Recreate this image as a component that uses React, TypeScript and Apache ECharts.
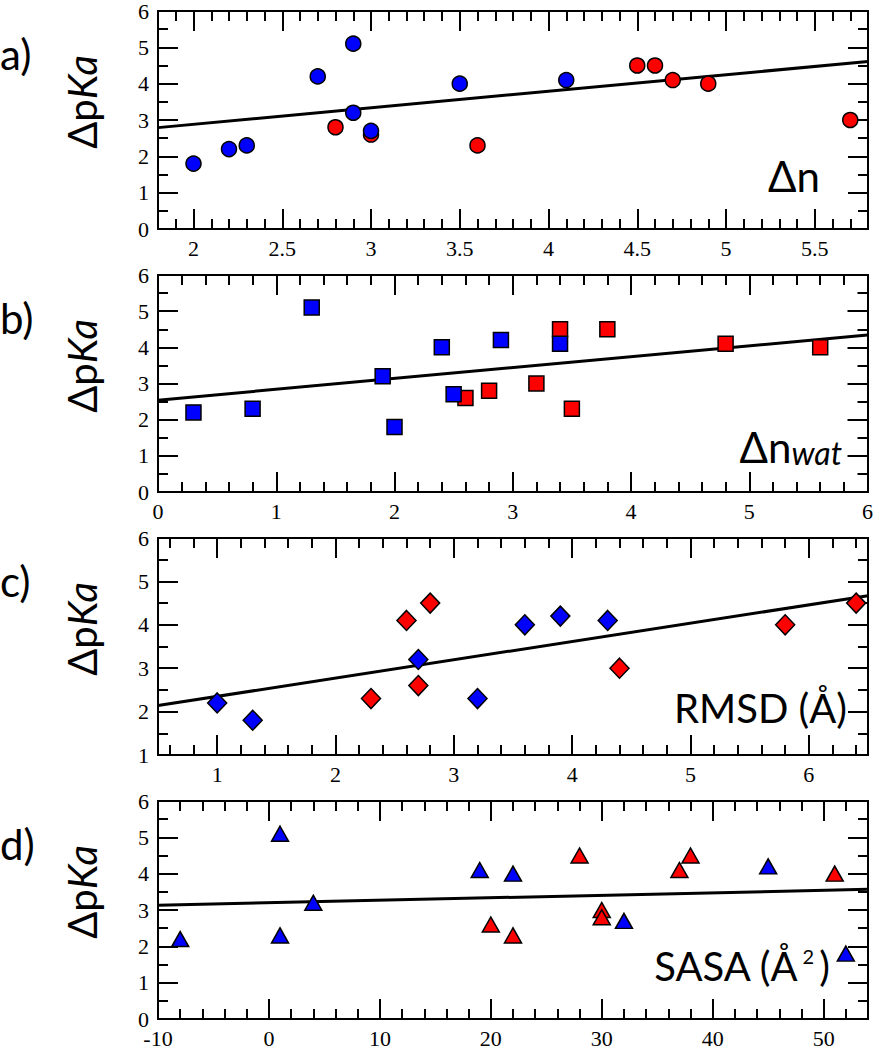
import React, { useEffect, useRef } from 'react';
import * as echarts from 'echarts';

// ---------- Data ----------
// a) Δn
const aBlue = [[2.0, 1.8], [2.2, 2.2], [2.3, 2.3], [2.7, 4.2], [2.9, 5.1], [2.9, 3.2], [3.0, 2.7], [3.5, 4.0], [4.1, 4.1]];
const aRed = [[2.8, 2.8], [3.0, 2.6], [3.6, 2.3], [4.5, 4.5], [4.6, 4.5], [4.7, 4.1], [4.9, 4.0], [5.7, 3.0]];
const aFit = [[1.8, 2.79], [5.8, 4.61]];
const aXLabels = [2, 2.5, 3, 3.5, 4, 4.5, 5, 5.5];

// b) Δn_wat
const bBlue = [[0.3, 2.2], [0.8, 2.3], [1.3, 5.1], [1.9, 3.2], [2.0, 1.8], [2.4, 4.0], [2.5, 2.7], [2.9, 4.2], [3.4, 4.1]];
const bRed = [[2.6, 2.6], [2.8, 2.8], [3.2, 3.0], [3.4, 4.5], [3.5, 2.3], [3.8, 4.5], [4.8, 4.1], [5.6, 4.0]];
const bFit = [[0, 2.54], [6, 4.34]];
const bXLabels = [0, 1, 2, 3, 4, 5, 6];

// c) RMSD (Å)
const cBlue = [[1.0, 2.2], [1.3, 1.8], [2.7, 3.2], [3.2, 2.3], [3.6, 4.0], [3.9, 4.2], [4.3, 4.1]];
const cRed = [[2.3, 2.3], [2.6, 4.1], [2.7, 2.6], [2.8, 4.5], [4.4, 3.0], [5.8, 4.0], [6.4, 4.5]];
const cFit = [[0.5, 2.14], [6.5, 4.67]];
const cXLabels = [1, 2, 3, 4, 5, 6];

// d) SASA (Å²)
const dBlue = [[-8, 2.2], [1, 5.1], [1, 2.3], [4, 3.2], [19, 4.1], [22, 4.0], [32, 2.7], [45, 4.2], [52, 1.8]];
const dRed = [[20, 2.6], [22, 2.3], [28, 4.5], [30, 3.0], [30, 2.8], [37, 4.1], [38, 4.5], [51, 4.0]];
const dFit = [[-10, 3.13], [54, 3.57]];
const dXLabels = [-10, 0, 10, 20, 30, 40, 50];

const yLabels06 = [0, 1, 2, 3, 4, 5, 6];
const yLabels16 = [1, 2, 3, 4, 5, 6];

// ---------- Layout ----------
const GRID_LEFT = 158;
const GRID_WIDTH = 710;
const PAD = 10;
const SERIF = 'Liberation Serif';
const SANS = 'Lato';

const panels = [
  { tag: 'a)', blue: aBlue, red: aRed, fit: aFit, xMin: 1.8, xMax: 5.8, xLabels: aXLabels, xMinorStep: 0.1, yMin: 0, yMax: 6, yLabels: yLabels06, symbol: 'circle', size: 15, top: 10, height: 219 },
  { tag: 'b)', blue: bBlue, red: bRed, fit: bFit, xMin: 0, xMax: 6, xLabels: bXLabels, xMinorStep: 0.2, yMin: 0, yMax: 6, yLabels: yLabels06, symbol: 'rect', size: 15, top: 274, height: 218 },
  { tag: 'c)', blue: cBlue, red: cRed, fit: cFit, xMin: 0.5, xMax: 6.5, xLabels: cXLabels, xMinorStep: 0.2, yMin: 1, yMax: 6, yLabels: yLabels16, symbol: 'diamond', size: [19, 20], top: 537, height: 218 },
  { tag: 'd)', blue: dBlue, red: dRed, fit: dFit, xMin: -10, xMax: 54, xLabels: dXLabels, xMinorStep: 2, yMin: 0, yMax: 6, yLabels: yLabels06, symbol: 'triangle', size: [17, 15], top: 800, height: 219 },
];

function stepTicks(min: number, max: number, step: number) {
  const out: number[] = [];
  const k0 = Math.ceil(min / step - 1e-9);
  for (let k = k0; k * step <= max + 1e-9; k++) out.push(+(k * step).toFixed(6));
  return out;
}

function makeAxes(dim: 'x' | 'y', min: number, max: number, major: number[], minor: number[], labels: number[]) {
  const isX = dim === 'x';
  const tickAxis = (position: string, ticks: number[], len: number) => ({
    type: 'value',
    gridIndex: 0,
    min,
    max,
    position,
    axisLine: { show: true, onZero: false, lineStyle: { color: '#000', width: 2 } },
    axisTick: { show: true, inside: true, length: len, customValues: ticks, lineStyle: { color: '#000', width: 2 } },
    axisLabel: { show: false },
    splitLine: { show: false },
  });
  const labelAxis = {
    type: 'value',
    gridIndex: 0,
    min,
    max,
    position: isX ? 'bottom' : 'left',
    axisLine: { show: true, onZero: false, lineStyle: { color: '#000', width: 2 } },
    axisTick: { show: false },
    axisLabel: {
      customValues: labels,
      fontSize: 22,
      fontFamily: SERIF,
      color: '#000',
      margin: isX ? 8 : 9,
      formatter: (v: number) => String(+Number(v).toFixed(6)),
    },
    splitLine: { show: false },
  };
  return [
    labelAxis,
    tickAxis(isX ? 'bottom' : 'left', major, 20),
    tickAxis(isX ? 'bottom' : 'left', minor, 10),
    tickAxis(isX ? 'top' : 'right', major, 20),
    tickAxis(isX ? 'top' : 'right', minor, 10),
  ];
}

function buildPanelOption(p: any) {
  return {
    animation: false,
    grid: { left: GRID_LEFT, width: GRID_WIDTH, top: PAD, height: p.height },
    xAxis: makeAxes('x', p.xMin, p.xMax, p.xLabels, stepTicks(p.xMin, p.xMax, p.xMinorStep), p.xLabels),
    yAxis: makeAxes('y', p.yMin, p.yMax, p.yLabels, stepTicks(p.yMin, p.yMax, 0.5), p.yLabels),
    series: [
      {
        type: 'line',
        xAxisIndex: 0,
        yAxisIndex: 0,
        data: p.fit,
        symbol: 'none',
        lineStyle: { color: '#000', width: 3 },
        z: 2,
      },
      {
        type: 'scatter',
        xAxisIndex: 0,
        yAxisIndex: 0,
        data: p.red,
        symbol: p.symbol,
        symbolSize: p.size,
        itemStyle: { color: '#ff0000', borderColor: '#000', borderWidth: 1.5, opacity: 1 },
        z: 3,
      },
      {
        type: 'scatter',
        xAxisIndex: 0,
        yAxisIndex: 0,
        data: p.blue,
        symbol: p.symbol,
        symbolSize: p.size,
        itemStyle: { color: '#0000ff', borderColor: '#000', borderWidth: 1.5, opacity: 1 },
        z: 4,
      },
    ],
  };
}

function buildGraphic() {
  const graphic: any[] = [];
  panels.forEach((p) => {
    graphic.push({
      type: 'text',
      x: 0,
      y: p.top + 44,
      style: { text: p.tag, fontFamily: SANS, fontSize: 42, fill: '#000', align: 'left', verticalAlign: 'middle' },
    });
    graphic.push({
      type: 'text',
      x: 82,
      y: p.top + 92,
      rotation: Math.PI / 2,
      style: {
        text: '{n|Δp}{i|Ka}',
        align: 'center',
        verticalAlign: 'middle',
        rich: {
          n: { fontFamily: SANS, fontSize: 40, fill: '#000' },
          i: { fontFamily: SANS, fontSize: 40, fontStyle: 'italic', fill: '#000' },
        },
      },
    });
  });
  graphic.push({
    type: 'text', x: 820, y: 176,
    style: { text: 'Δn', fontFamily: SANS, fontSize: 42, fill: '#000', align: 'right', verticalAlign: 'middle' },
  });
  graphic.push({
    type: 'text', x: 842, y: 447,
    style: {
      text: '{n|Δn}{w|wat}', align: 'right', verticalAlign: 'middle',
      rich: {
        n: { fontFamily: SANS, fontSize: 42, fill: '#000' },
        w: { fontFamily: SANS, fontSize: 32, fontStyle: 'italic', fill: '#000', verticalAlign: 'bottom' },
      },
    },
  });
  graphic.push({
    type: 'text', x: 847, y: 708,
    style: { text: 'RMSD (Å)', fontFamily: SANS, fontSize: 40, fill: '#000', align: 'right', verticalAlign: 'middle' },
  });
  graphic.push({
    type: 'text', x: 830, y: 966,
    style: {
      text: '{m|SASA (Å}{s| 2 }{m|)}', align: 'right', verticalAlign: 'middle',
      rich: {
        m: { fontFamily: SANS, fontSize: 40, fill: '#000' },
        s: { fontFamily: SANS, fontSize: 20, fill: '#000', verticalAlign: 'top' },
      },
    },
  });
  return graphic;
}

export default function App() {
  const panelRefs = useRef<(HTMLDivElement | null)[]>([]);
  const overlayRef = useRef<HTMLDivElement>(null);
  useEffect(() => {
    const charts: any[] = [];
    panels.forEach((p, i) => {
      const el = panelRefs.current[i];
      if (!el) return;
      const c = echarts.init(el, undefined, { renderer: 'svg' });
      c.setOption(buildPanelOption(p) as any);
      charts.push(c);
    });
    if (overlayRef.current) {
      const c = echarts.init(overlayRef.current, undefined, { renderer: 'svg' });
      c.setOption({ animation: false, graphic: buildGraphic() } as any);
      charts.push(c);
    }
    return () => charts.forEach((c) => c.dispose());
  }, []);
  return (
    <div style={{ position: 'absolute', left: 0, top: 0, width: 876, height: 1050, background: '#fff' }}>
      {panels.map((p, i) => (
        <div
          key={i}
          ref={(el) => {
            panelRefs.current[i] = el;
          }}
          style={{ position: 'absolute', left: 0, top: p.top - PAD, width: 876, height: p.height + 2 * PAD + 30 }}
        />
      ))}
      <div
        ref={overlayRef}
        style={{ position: 'absolute', left: 0, top: 0, width: 876, height: 1050, pointerEvents: 'none' }}
      />
    </div>
  );
}
